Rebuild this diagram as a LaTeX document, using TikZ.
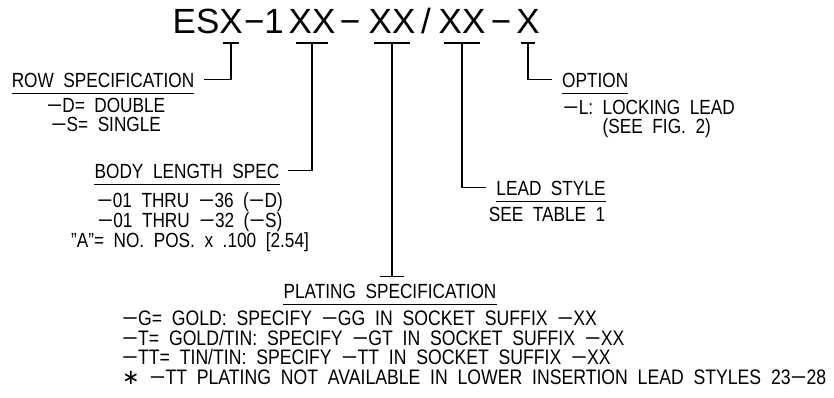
\documentclass[tikz,border=0pt]{standalone}
\usepackage{fontspec}
\setmainfont{Liberation Sans}[FakeStretch=0.84,WordSpace=2.0]
\newfontfamily\codefont{Liberation Sans}
\newfontfamily\symfont{DejaVu Sans}
\newcommand\mi{\scalebox{1.55}[1]{−}}
\usetikzlibrary{positioning,calc}

\begin{document}
\begin{tikzpicture}[
  x=1pt,y=-1pt,
  code/.style={font=\codefont\fontsize{35}{40}\selectfont,inner sep=0pt,anchor=base},
  lead/.style={line width=1.1pt},
  head/.style={font=\fontsize{20.5}{19}\selectfont,inner sep=0pt,anchor=base,
               append after command={([yshift=-6pt]\tikzlastnode.south west)
                 edge[lead] ([yshift=-6pt]\tikzlastnode.south east)}},
  note/.style={font=\fontsize{20.5}{19}\selectfont,inner sep=0pt,align=center}
]
\useasboundingbox (0,0) rectangle (834,397);

% ===== PART NUMBER =====
\node[code] (tES)   at (196,33) {ES};
\node[code] (tRow)  at (231,33) {X};
\node[code] (tD1)   at (264,33) {−1};
\node[code] (tBody) at (312,33) {XX};
\node[code] (tD2)   at (350,33) {−};
\node[code] (tPlat) at (392,33) {XX};
\node[code] (tSl)   at (426,33) {/};
\node[code] (tLead) at (462,33) {XX};
\node[code] (tD3)   at (501,33) {−};
\node[code] (tOpt)  at (528,33) {X};

% ===== ROW =====
\node[head] (hRow) at (103,87) {ROW SPECIFICATION};
\node[note,below=11pt of hRow,xshift=3pt] (nRow) {\mi D= DOUBLE\\\mi S= SINGLE};

% ===== BODY LENGTH =====
\node[head] (hBody) at (187,178) {BODY LENGTH SPEC};
\node[note,below=14pt of hBody,xshift=3pt] (nBody)
  {\mi 01 THRU \mi 36 (\mi D)\\\mi 01 THRU \mi 32 (\mi S)\\"A"= NO. POS. x .100 [2.54]};

% ===== OPTION =====
\node[head,anchor=base west] (hOpt) at (562,87) {OPTION};
\node[note,align=left,anchor=north west] (nOpt) at (563,100)
  {\mi L: LOCKING LEAD\\\phantom{\mi L: }(SEE FIG. 2)};

% ===== LEAD STYLE =====
\node[head] (hLead) at (551,195) {LEAD STYLE};
\node[note,below=12pt of hLead,xshift=-4pt] (nLead) {SEE TABLE 1};

% ===== PLATING =====
\node[head] (hPlat) at (390,298) {PLATING SPECIFICATION};
\node[note,align=left,anchor=north west,font=\fontsize{21}{19.5}\selectfont] (nPlat) at (122,311)
  {\mi G= GOLD: SPECIFY \mi GG IN SOCKET SUFFIX \mi XX\\
   \mi T= GOLD/TIN: SPECIFY \mi GT IN SOCKET SUFFIX \mi XX\\
   \mi TT= TIN/TIN: SPECIFY \mi TT IN SOCKET SUFFIX \mi XX\\
   {\symfont ∗} \mi TT PLATING NOT AVAILABLE IN LOWER INSERTION LEAD STYLES 23\mi 28};

% ===== LEADERS =====
\foreach \f/\w in {Row/8pt,Body/16pt,Plat/18pt,Lead/18pt,Opt/7pt} {
  \coordinate (b\f) at ([yshift=-10pt]t\f.base);
  \draw[lead] ([xshift=-\w]b\f) -- ([xshift=\w]b\f);
}
\draw[lead] (bRow) |- ([xshift=10pt]hRow.east);
\draw[lead] (bBody) |- ([xshift=8pt]hBody.east);
\draw[lead] (bLead) |- ([xshift=-10pt]hLead.west);
\draw[lead] (bOpt) |- ([xshift=-10pt]hOpt.west);
\path (hPlat.north) ++(0,-7) coordinate (pM);
\coordinate (pT) at (bPlat |- pM);
\draw[lead] (bPlat) -- (pT);
\draw[lead] ([xshift=-12pt]pT) -- ([xshift=12pt]pT);

\end{tikzpicture}
\end{document}
